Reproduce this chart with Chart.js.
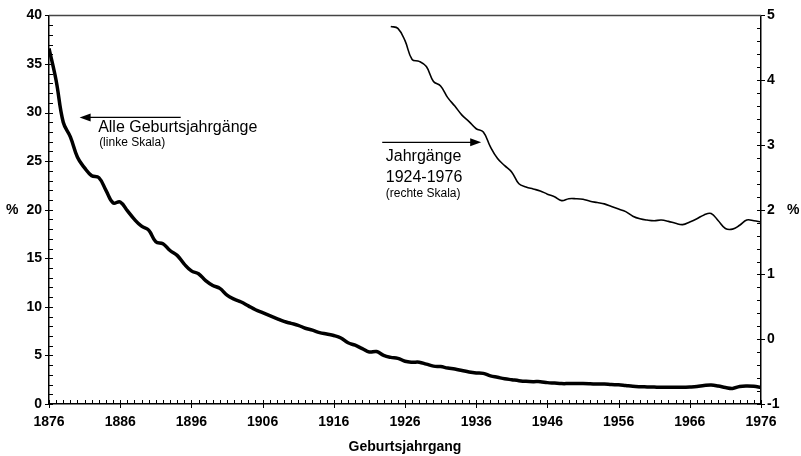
<!DOCTYPE html>
<html>
<head>
<meta charset="utf-8">
<script src="https://cdn.jsdelivr.net/npm/chart.js@4.4.1/dist/chart.umd.min.js"></script>
<style>
  html, body { margin: 0; padding: 0; background: #fff; }
</style>
</head>
<body>
<canvas id="geburtenChart" width="801" height="456"></canvas>
<script>
// Geburtsjahrgaenge 1876-1976 (linke Skala)
const yearsAll = [
  1876, 1877, 1878, 1879, 1880, 1881, 1882, 1883, 1884, 1885,
  1886, 1887, 1888, 1889, 1890, 1891, 1892, 1893, 1894, 1895,
  1896, 1897, 1898, 1899, 1900, 1901, 1902, 1903, 1904, 1905,
  1906, 1907, 1908, 1909, 1910, 1911, 1912, 1913, 1914, 1915,
  1916, 1917, 1918, 1919, 1920, 1921, 1922, 1923, 1924, 1925,
  1926, 1927, 1928, 1929, 1930, 1931, 1932, 1933, 1934, 1935,
  1936, 1937, 1938, 1939, 1940, 1941, 1942, 1943, 1944, 1945,
  1946, 1947, 1948, 1949, 1950, 1951, 1952, 1953, 1954, 1955,
  1956, 1957, 1958, 1959, 1960, 1961, 1962, 1963, 1964, 1965,
  1966, 1967, 1968, 1969, 1970, 1971, 1972, 1973, 1974, 1975,
  1976
];
const shareAll = [
  36.6, 33.3, 29.0, 27.5, 25.4, 24.3, 23.5, 23.3, 22.0, 20.7,
  20.8, 19.9, 19.0, 18.3, 17.9, 16.7, 16.5, 15.8, 15.3, 14.4,
  13.7, 13.4, 12.7, 12.2, 11.9, 11.2, 10.8, 10.5, 10.1, 9.7,
  9.4, 9.1, 8.8, 8.5, 8.3, 8.1, 7.8, 7.6, 7.35, 7.2,
  7.05, 6.8, 6.3, 6.05, 5.7, 5.35, 5.4, 5.0, 4.8, 4.7,
  4.4, 4.3, 4.3, 4.1, 3.9, 3.85, 3.7, 3.6, 3.45, 3.3,
  3.2, 3.15, 2.9, 2.75, 2.6, 2.5, 2.4, 2.33, 2.3, 2.3,
  2.2, 2.15, 2.1, 2.1, 2.1, 2.1, 2.08, 2.05, 2.05, 2.0,
  1.98, 1.9, 1.82, 1.78, 1.76, 1.74, 1.72, 1.72, 1.72, 1.72,
  1.75, 1.8, 1.9, 1.95, 1.85, 1.7, 1.6, 1.8, 1.85, 1.82,
  1.72
];

// Jahrgaenge 1924-1976 (rechte Skala)
const yearsRecent = [
  1924, 1925, 1926, 1927, 1928, 1929, 1930, 1931, 1932, 1933,
  1934, 1935, 1936, 1937, 1938, 1939, 1940, 1941, 1942, 1943,
  1944, 1945, 1946, 1947, 1948, 1949, 1950, 1951, 1952, 1953,
  1954, 1955, 1956, 1957, 1958, 1959, 1960, 1961, 1962, 1963,
  1964, 1965, 1966, 1967, 1968, 1969, 1970, 1971, 1972, 1973,
  1974, 1975, 1976
];
const shareRecent = [
  4.83, 4.80, 4.61, 4.32, 4.29, 4.21, 3.98, 3.91, 3.73, 3.60,
  3.46, 3.36, 3.25, 3.20, 2.97, 2.79, 2.68, 2.58, 2.40, 2.35,
  2.32, 2.29, 2.24, 2.20, 2.14, 2.17, 2.17, 2.16, 2.13, 2.11,
  2.09, 2.05, 2.01, 1.97, 1.90, 1.86, 1.84, 1.83, 1.84, 1.82,
  1.79, 1.77, 1.81, 1.86, 1.92, 1.94, 1.83, 1.71, 1.70, 1.76,
  1.84, 1.83, 1.81
];

const xTicks = [1876, 1886, 1896, 1906, 1916, 1926, 1936, 1946, 1956, 1966, 1976];
const leftTicks = [0, 5, 10, 15, 20, 25, 30, 35, 40];
const rightTicks = [-1, 0, 1, 2, 3, 4, 5];

const ink = '#000';
const labelFont = { family: '"Liberation Sans", Arial, sans-serif', size: 14, weight: 'bold' };

function setTicks(list) {
  return function(scale) { scale.ticks = list.map(v => ({ value: v })); };
}

// Minor ticks, top frame line and % signs
const frame = {
  id: 'frame',
  afterDraw(chart) {
    const { ctx, chartArea: a, scales: { x, yL, yR } } = chart;
    ctx.save();
    ctx.strokeStyle = ink;
    ctx.lineWidth = 1;
    ctx.beginPath();
    for (let v = x.min; v <= x.max; v++) {
      const px = Math.round(x.getPixelForValue(v)) + 0.5;
      const major = (v - x.min) % 10 === 0;
      ctx.moveTo(px, a.bottom - 4);
      ctx.lineTo(px, a.bottom + (major ? 4 : 0));
    }
    for (let v = yL.min; v <= yL.max; v++) {
      const py = Math.round(yL.getPixelForValue(v)) + 0.5;
      const major = v % 5 === 0;
      ctx.moveTo(a.left - (major ? 4 : 0), py);
      ctx.lineTo(a.left + 4, py);
    }
    for (let i = 0; i <= 30; i++) {
      const v = yR.min + i * 0.2;
      const py = Math.round(yR.getPixelForValue(v)) + 0.5;
      const major = i % 5 === 0;
      ctx.moveTo(a.right - 4, py);
      ctx.lineTo(a.right + (major ? 4 : 0), py);
    }
    ctx.stroke();

    ctx.strokeStyle = '#444';
    ctx.lineWidth = 1.5;
    ctx.beginPath();
    ctx.moveTo(a.left, a.top);
    ctx.lineTo(a.right, a.top);
    ctx.stroke();

    ctx.fillStyle = ink;
    ctx.font = 'bold 14px "Liberation Sans", Arial, sans-serif';
    ctx.textBaseline = 'middle';
    ctx.textAlign = 'left';
    ctx.fillText('%', 6, yL.getPixelForValue(20));
    ctx.fillText('%', 787, yR.getPixelForValue(2));
    ctx.restore();
  }
};

function arrow(ctx, x1, x2, y) {
  const dir = x2 > x1 ? 1 : -1;
  ctx.beginPath();
  ctx.moveTo(x1, y);
  ctx.lineTo(x2 - dir * 9, y);
  ctx.stroke();
  ctx.beginPath();
  ctx.moveTo(x2, y);
  ctx.lineTo(x2 - dir * 11, y - 4);
  ctx.lineTo(x2 - dir * 11, y + 4);
  ctx.closePath();
  ctx.fill();
}

// Arrows and series notes
const notes = {
  id: 'notes',
  afterDraw(chart) {
    const { ctx, scales: { x, yL, yR } } = chart;
    ctx.save();
    ctx.strokeStyle = ink;
    ctx.fillStyle = ink;
    ctx.lineWidth = 1.2;
    ctx.textAlign = 'left';
    ctx.textBaseline = 'alphabetic';

    arrow(ctx, x.getPixelForValue(1894.5), x.getPixelForValue(1880.3), yL.getPixelForValue(29.5));
    const lx = x.getPixelForValue(1882.9);
    ctx.font = '16px "Liberation Sans", Arial, sans-serif';
    ctx.fillText('Alle Geburtsjahrgänge', lx, yL.getPixelForValue(28.0));
    ctx.font = '12px "Liberation Sans", Arial, sans-serif';
    ctx.fillText('(linke Skala)', lx + 1, yL.getPixelForValue(26.6));

    arrow(ctx, x.getPixelForValue(1922.8), x.getPixelForValue(1936.7), yR.getPixelForValue(3.04));
    const rx = x.getPixelForValue(1923.3);
    ctx.font = '16px "Liberation Sans", Arial, sans-serif';
    ctx.fillText('Jahrgänge', rx, yR.getPixelForValue(2.75));
    ctx.fillText('1924-1976', rx, yR.getPixelForValue(2.43));
    ctx.font = '12px "Liberation Sans", Arial, sans-serif';
    ctx.fillText('(rechte Skala)', rx, yR.getPixelForValue(2.19));
    ctx.restore();
  }
};

new Chart(document.getElementById('geburtenChart').getContext('2d'), {
  type: 'line',
  data: {
    datasets: [{
      label: 'Alle Geburtsjahrgänge',
      data: yearsAll.map((yr, i) => ({ x: yr, y: shareAll[i] })),
      yAxisID: 'yL',
      borderColor: ink,
      borderWidth: 3.5,
      pointRadius: 0,
      tension: 0.4,
      fill: false
    }, {
      label: 'Jahrgänge 1924-1976',
      data: yearsRecent.map((yr, i) => ({ x: yr, y: shareRecent[i] })),
      yAxisID: 'yR',
      borderColor: ink,
      borderWidth: 1.6,
      pointRadius: 0,
      tension: 0.4,
      fill: false
    }]
  },
  options: {
    responsive: false,
    animation: false,
    layout: { padding: { top: 15, left: 0, right: 0, bottom: 0 } },
    plugins: {
      legend: { display: false },
      tooltip: { enabled: false }
    },
    scales: {
      x: {
        type: 'linear',
        min: 1876,
        max: 1976,
        afterBuildTicks: setTicks(xTicks),
        afterFit: s => { s.height = 52; },
        grid: { display: false, drawTicks: false },
        border: { display: true, color: ink, width: 1.5 },
        ticks: { color: ink, font: labelFont, padding: 10, maxRotation: 0, callback: v => String(v) },
        title: {
          display: true,
          text: 'Geburtsjahrgang',
          color: ink,
          font: { family: labelFont.family, size: 14, weight: 'bold' },
          padding: { top: 0, bottom: 0 }
        }
      },
      yL: {
        type: 'linear',
        position: 'left',
        min: 0,
        max: 40,
        afterBuildTicks: setTicks(leftTicks),
        afterFit: s => { s.width = 49; },
        grid: { display: false, drawTicks: false },
        border: { display: true, color: ink, width: 1.5 },
        ticks: { color: ink, font: labelFont, padding: 7, callback: v => String(v) }
      },
      yR: {
        type: 'linear',
        position: 'right',
        min: -1,
        max: 5,
        afterBuildTicks: setTicks(rightTicks),
        afterFit: s => { s.width = 40; },
        grid: { display: false, drawTicks: false },
        border: { display: true, color: ink, width: 1.5 },
        ticks: { color: ink, font: labelFont, padding: 6, callback: v => String(v) }
      }
    }
  },
  plugins: [frame, notes]
});
</script>
</body>
</html>
